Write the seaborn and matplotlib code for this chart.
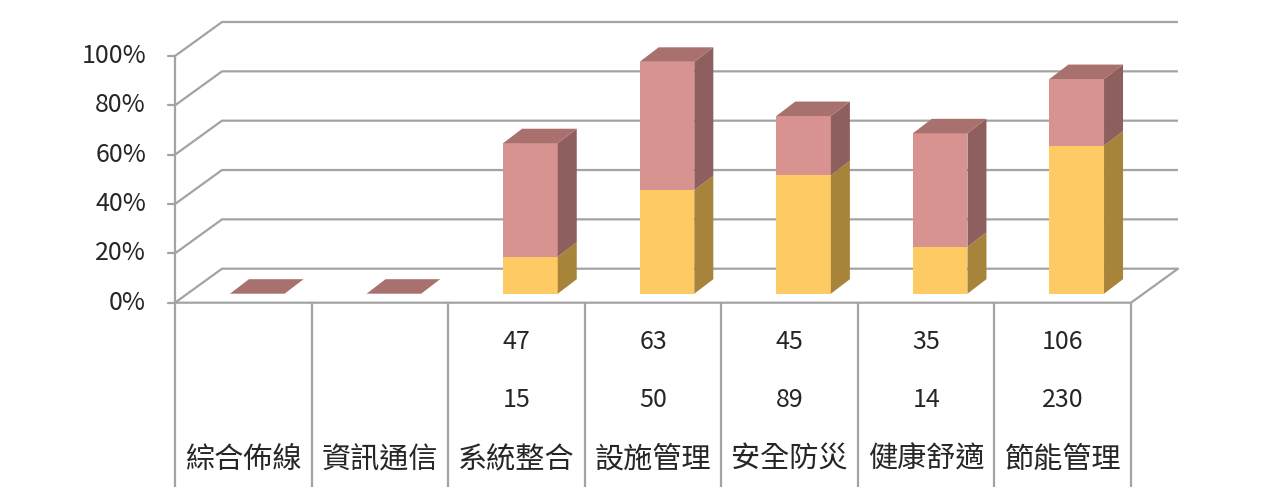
import numpy as np
import pandas as pd
import matplotlib
matplotlib.use("Agg")
import matplotlib.pyplot as plt
import matplotlib.transforms as mtransforms
from matplotlib.patches import Polygon
import seaborn as sns

# 資料
categories = ['綜合佈線', '資訊通信', '系統整合', '設施管理', '安全防災', '健康舒適', '節能管理']
row_top = ['', '', '47', '63', '45', '35', '106']      # 表格第一列
row_bottom = ['', '', '15', '50', '89', '14', '230']   # 表格第二列
yellow_pct = [0, 0, 15, 42, 48, 19, 60]
pink_pct = [0, 0, 46, 52, 24, 46, 27]
yticks = [0, 20, 40, 60, 80, 100]

# 顏色
yellow_front, yellow_side = '#FDCA63', '#A8833A'
pink_front, pink_side, pink_top = '#D89391', '#8E5F5E', '#A8716E'
grid_c = '#A3A3A3'
text_c = '#262626'

sns.set_theme(style='white')
plt.rcParams['font.family'] = ['Noto Sans CJK TC', 'DejaVu Sans']

W, H = 1281, 487
fig = plt.figure(figsize=(W / 100, H / 100), dpi=100)
x0_px, x1_px = 175, 1131
y0_px, y100_px = 302.7, 56
ax = fig.add_axes([x0_px / W, 1 - y0_px / H, (x1_px - x0_px) / W, (y0_px - y100_px) / H])

n = len(categories)
px_x = (x1_px - x0_px) / n          # 每單位 x 的像素
px_y = (y0_px - y100_px) / 100      # 每 1% 的像素

# 背景牆深度
ddx, ddy = 47 / px_x, 34 / px_y
left, right = -0.5, n - 0.5

df = pd.DataFrame({'cat': categories,
                   'total': np.array(yellow_pct) + np.array(pink_pct),
                   'yellow': yellow_pct})

sns.barplot(data=df, x='cat', y='total', order=categories, color=pink_front,
            saturation=1, width=0.4, linewidth=0, ax=ax)
sns.barplot(data=df, x='cat', y='yellow', order=categories, color=yellow_front,
            saturation=1, width=0.4, linewidth=0, ax=ax)
ax.set_xlim(left, right)
ax.set_ylim(0, 100)
ax.axis('off')

# 長條往後移一點 (3D 效果)
bar_tr = mtransforms.offset_copy(ax.transData, fig=fig, x=14, y=9, units='dots')
for p in ax.patches:
    p.set_transform(bar_tr)
    p.set_zorder(5)
    p.set_clip_on(False)

# 格線與牆
lw = 1.6
for v in yticks:
    ax.plot([left, left + ddx, right + ddx], [v, v + ddy, v + ddy],
            color=grid_c, lw=lw, clip_on=False, zorder=1, solid_capstyle='butt')
    ax.plot([left - 7 / px_x, left], [v, v], color=grid_c, lw=lw, clip_on=False, zorder=1)
ax.plot([left, left], [0, 100], color=grid_c, lw=lw, clip_on=False, zorder=2)
ax.plot([left, right, right + ddx], [0, 0, ddy], color=grid_c, lw=lw, clip_on=False, zorder=2)

# 側面與頂面
bw = 0.4
bdx, bdy = 19 / px_x, 14.5 / px_y
for i in range(n):
    y = yellow_pct[i]
    tot = yellow_pct[i] + pink_pct[i]
    r = i + bw / 2
    l = i - bw / 2
    for lo, hi, c in [(0, y, yellow_side), (y, tot, pink_side)]:
        if hi > lo:
            ax.add_patch(Polygon([(r, lo), (r + bdx, lo + bdy), (r + bdx, hi + bdy), (r, hi)],
                                 closed=True, fc=c, ec='none', transform=bar_tr,
                                 zorder=5, clip_on=False))
    ax.add_patch(Polygon([(l, tot), (r, tot), (r + bdx, tot + bdy), (l + bdx, tot + bdy)],
                         closed=True, fc=pink_top, ec='none', transform=bar_tr,
                         zorder=5, clip_on=False))

# y 軸標籤
for v in yticks:
    ax.text(left - 29 / px_x, v, f'{v}%', ha='right', va='center',
            fontsize=18, color=text_c, clip_on=False)

# 資料表
y_bottom = -(H - y0_px) / px_y
for k in range(n + 1):
    ax.plot([left + k, left + k], [0, y_bottom], color=grid_c, lw=lw, clip_on=False, zorder=2)
for i in range(n):
    ax.text(i, -(342 - y0_px) / px_y, row_top[i], ha='center', va='center',
            fontsize=18, color=text_c)
    ax.text(i, -(400 - y0_px) / px_y, row_bottom[i], ha='center', va='center',
            fontsize=18, color=text_c)
    ax.text(i, -(460 - y0_px) / px_y, categories[i], ha='center', va='center',
            fontsize=21, color=text_c)

fig.savefig('out.png', dpi=100)
